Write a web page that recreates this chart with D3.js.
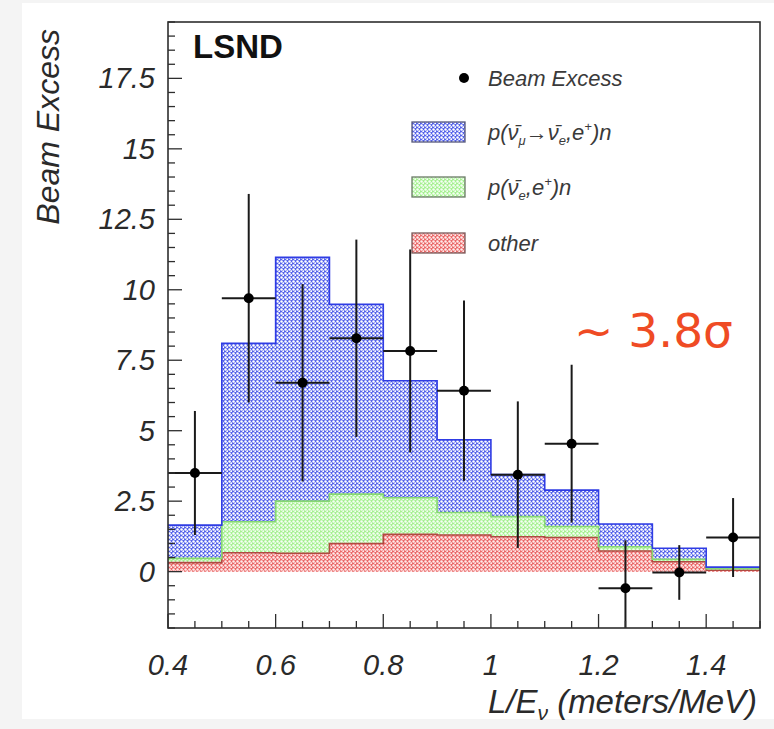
<!DOCTYPE html>
<html>
<head>
<meta charset="utf-8">
<script src="https://cdn.jsdelivr.net/npm/d3@7.9.0/dist/d3.min.js"></script>
<style>
  body { margin: 0; background: #f4f4f4; }
  svg { display: block; font-family: "Liberation Sans", Arial, sans-serif; }
</style>
</head>
<body>
<svg id="chart" width="774" height="729"></svg>
<script>
// bins in L/E (meters/MeV)
const binEdges = [0.4, 0.5, 0.6, 0.7, 0.8, 0.9, 1.0, 1.1, 1.2, 1.3, 1.4, 1.5];
// stacked backgrounds, each the contribution of its own component
const other = [0.32, 0.67, 0.65, 1.0, 1.32, 1.3, 1.24, 1.21, 0.73, 0.35, 0.05];
const pDar = [0.15, 1.10, 1.85, 1.75, 1.30, 0.80, 0.71, 0.39, 0.15, 0.09, 0.05];
const oscillation = [1.18, 6.33, 8.65, 6.73, 4.15, 2.58, 1.49, 1.29, 0.81, 0.39, 0.06];
// beam excess points
const excessX = [0.45, 0.55, 0.65, 0.75, 0.85, 0.95, 1.05, 1.15, 1.25, 1.35, 1.45];
const excessY = [3.5, 9.7, 6.7, 8.28, 7.83, 6.42, 3.44, 4.54, -0.59, -0.03, 1.21];
const excessErr = [2.2, 3.7, 3.5, 3.5, 3.6, 3.2, 2.6, 2.8, 1.7, 0.97, 1.4];

const xTicks = [0.4, 0.6, 0.8, 1, 1.2, 1.4];
const yTicks = [0, 2.5, 5, 7.5, 10, 12.5, 15, 17.5];

const svg = d3.select('#chart');
const plotLeft = 168, plotRight = 760, plotTop = 22, plotBottom = 628;

const x = d3.scaleLinear().domain([0.4, 1.5]).range([plotLeft, plotRight]);
const y = d3.scaleLinear().domain([-2, 19.5]).range([plotBottom, plotTop]);

// page background
svg.append('rect').attr('width', 774).attr('height', 729).attr('fill', '#f4f4f4');
svg.append('rect').attr('x', 22).attr('y', 3).attr('width', 752).attr('height', 716).attr('fill', '#fff');

const defs = svg.append('defs');
defs.append('clipPath').attr('id', 'plot-clip')
  .append('rect').attr('x', plotLeft).attr('y', plotTop)
  .attr('width', plotRight - plotLeft).attr('height', plotBottom - plotTop);

function addPattern(id, base, dot) {
  let p = defs.append('pattern').attr('id', id)
    .attr('patternUnits', 'userSpaceOnUse').attr('width', 4).attr('height', 4);
  p.append('rect').attr('width', 4).attr('height', 4).attr('fill', base);
  p.append('circle').attr('cx', 1.5).attr('cy', 1.5).attr('r', 1.25).attr('fill', dot);
  p.append('circle').attr('cx', 3.5).attr('cy', 3.5).attr('r', 1.25).attr('fill', dot);
}
addPattern('pat-blue', '#5563ea', '#ffffff');
addPattern('pat-green', '#a6f091', '#f4fff2');
addPattern('pat-red', '#ea6868', '#ffeaea');

const keys = ['other', 'pDar', 'oscillation'];
const fills = { other: 'url(#pat-red)', pDar: 'url(#pat-green)', oscillation: 'url(#pat-blue)' };
const lines = { other: '#b04a42', pDar: '#86d872', oscillation: '#2f3ce4' };

let rows = other.map((d, i) => ({ x0: binEdges[i], other: d, pDar: pDar[i], oscillation: oscillation[i] }));
// repeat last bin so the step reaches the right edge
rows.push({ ...rows[rows.length - 1], x0: binEdges[binEdges.length - 1] });

let series = d3.stack().keys(keys)(rows);

let plot = svg.append('g').attr('clip-path', 'url(#plot-clip)');

let area = d3.area()
  .curve(d3.curveStepAfter)
  .x(d => x(d.data.x0))
  .y0(d => y(d[0]))
  .y1(d => y(d[1]));

let topLine = d3.line()
  .curve(d3.curveStepAfter)
  .x(d => x(d.data.x0))
  .y(d => y(d[1]));

series.forEach(s => {
  plot.append('path').attr('d', area(s)).attr('fill', fills[s.key]);
});
series.forEach(s => {
  plot.append('path').attr('d', topLine(s)).attr('fill', 'none')
    .attr('stroke', lines[s.key]).attr('stroke-width', 1.6);
});

// beam excess with error bars
let pts = plot.append('g').attr('stroke', '#1a1a1a').attr('stroke-width', 2);
excessX.forEach((cx, i) => {
  pts.append('line')
    .attr('x1', x(cx)).attr('x2', x(cx))
    .attr('y1', y(excessY[i] - excessErr[i])).attr('y2', y(excessY[i] + excessErr[i]));
  pts.append('line')
    .attr('x1', x(binEdges[i])).attr('x2', x(binEdges[i + 1]))
    .attr('y1', y(excessY[i])).attr('y2', y(excessY[i]));
  pts.append('circle').attr('cx', x(cx)).attr('cy', y(excessY[i])).attr('r', 5)
    .attr('fill', '#000').attr('stroke', 'none');
});

// frame
svg.append('rect').attr('x', plotLeft).attr('y', plotTop)
  .attr('width', plotRight - plotLeft).attr('height', plotBottom - plotTop)
  .attr('fill', 'none').attr('stroke', '#2e2e2e').attr('stroke-width', 1.6);

// ticks (inside the frame, root style)
let tickG = svg.append('g').attr('stroke', '#2e2e2e').attr('stroke-width', 1.3);
d3.range(0.4, 1.5001, 0.05).forEach(v => {
  let major = Math.abs(v * 5 - Math.round(v * 5)) < 1e-6;
  tickG.append('line').attr('x1', x(v)).attr('x2', x(v))
    .attr('y1', plotBottom).attr('y2', plotBottom - (major ? 14 : 7));
});
d3.range(-2, 19.5001, 0.5).forEach(v => {
  let major = Math.abs(v / 2.5 - Math.round(v / 2.5)) < 1e-6;
  tickG.append('line').attr('y1', y(v)).attr('y2', y(v))
    .attr('x1', plotLeft).attr('x2', plotLeft + (major ? 14 : 7));
});

const textColor = '#2a2a2a';

svg.append('g').selectAll('text').data(xTicks).join('text')
  .attr('x', d => x(d)).attr('y', 675)
  .attr('text-anchor', 'middle')
  .attr('font-size', 29).attr('font-style', 'italic').attr('fill', textColor)
  .text(d => d);

svg.append('g').selectAll('text').data(yTicks).join('text')
  .attr('x', 155).attr('y', d => y(d) + 10)
  .attr('text-anchor', 'end')
  .attr('font-size', 29).attr('font-style', 'italic').attr('fill', textColor)
  .text(d => d);

// axis titles
let xTitle = svg.append('text').attr('x', 757).attr('y', 713)
  .attr('text-anchor', 'end').attr('font-size', 33).attr('font-style', 'italic').attr('fill', textColor);
xTitle.append('tspan').text('L/E');
xTitle.append('tspan').attr('dy', 7).attr('font-size', 21).text('ν');
xTitle.append('tspan').attr('dy', -7).text(' (meters/MeV)');

svg.append('text')
  .attr('transform', 'translate(59,29) rotate(-90)')
  .attr('text-anchor', 'end').attr('font-size', 32).attr('font-style', 'italic').attr('fill', textColor)
  .text('Beam Excess');

// LSND label
svg.append('text').attr('x', 193).attr('y', 58)
  .attr('font-size', 33).attr('font-weight', 'bold').attr('fill', '#111')
  .text('LSND');

// legend
let legend = svg.append('g').attr('font-style', 'italic').attr('font-size', 22).attr('fill', '#3a3a3a');
legend.append('circle').attr('cx', 464).attr('cy', 78).attr('r', 5).attr('fill', '#000');
legend.append('text').attr('x', 488).attr('y', 86).text('Beam Excess');

const boxY = [122, 177, 233];
const boxFill = ['url(#pat-blue)', 'url(#pat-green)', 'url(#pat-red)'];
const boxStroke = ['#55577a', '#6a7a66', '#7a5a5a'];
boxY.forEach((by, i) => {
  legend.append('rect').attr('x', 412).attr('y', by).attr('width', 53).attr('height', 20)
    .attr('fill', boxFill[i]).attr('stroke', boxStroke[i]).attr('stroke-width', 1.3);
});

let l1 = legend.append('text').attr('x', 488).attr('y', 140);
l1.append('tspan').text('p(ν\u0304');
l1.append('tspan').attr('dy', 5).attr('font-size', 13).text('μ');
l1.append('tspan').attr('dy', -5).text('→ν\u0304');
l1.append('tspan').attr('dy', 5).attr('font-size', 13).text('e');
l1.append('tspan').attr('dy', -5).text(',e');
l1.append('tspan').attr('dy', -9).attr('font-size', 13).text('+');
l1.append('tspan').attr('dy', 9).text(')n');

let l2 = legend.append('text').attr('x', 488).attr('y', 195);
l2.append('tspan').text('p(ν\u0304');
l2.append('tspan').attr('dy', 5).attr('font-size', 13).text('e');
l2.append('tspan').attr('dy', -5).text(',e');
l2.append('tspan').attr('dy', -9).attr('font-size', 13).text('+');
l2.append('tspan').attr('dy', 9).text(')n');

legend.append('text').attr('x', 488).attr('y', 251).text('other');

// significance note
svg.append('text').attr('x', 574).attr('y', 347)
  .attr('font-family', '"DejaVu Sans", sans-serif')
  .attr('font-size', 47).attr('fill', '#ef4b24')
  .text('~ 3.8σ');
</script>
</body>
</html>
